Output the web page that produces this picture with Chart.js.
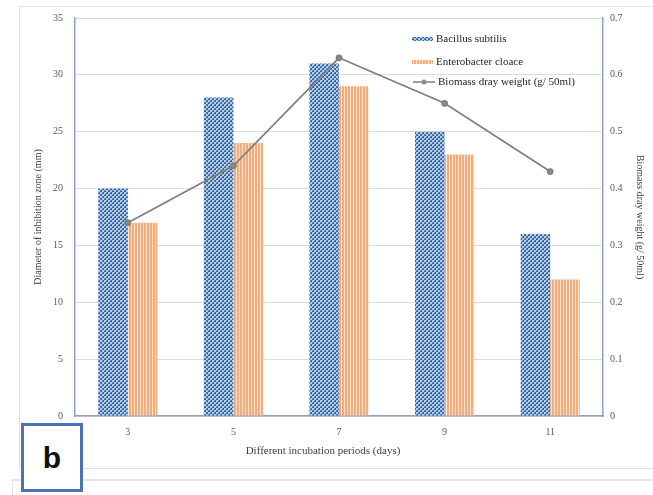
<!DOCTYPE html>
<html>
<head>
<meta charset="utf-8">
<script src="https://cdn.jsdelivr.net/npm/chart.js@4.4.1/dist/chart.umd.min.js"></script>
<style>
    html, body { margin: 0; padding: 0; background: #fff; }
    #wrap { position: relative; width: 653px; height: 495px; overflow: hidden; }
    #chart { position: absolute; left: 0; top: 0; z-index: 1; }
    .frame { position: absolute; left: 19px; top: 6px; width: 640px; height: 461px; border: 1px solid #e2e2e2; border-right: none; }
    .under { position: absolute; left: 12px; top: 479px; width: 641px; border-top: 2px solid #e6e6e6; }
    .under-side { position: absolute; left: 12px; top: 479px; height: 16px; border-left: 1px solid #e6e6e6; }
    #badge {
        position: absolute; left: 21px; top: 423px; width: 56px; height: 63px; z-index: 2;
        border: 3px solid #4a72b4; background: #fff; color: #111;
        font: bold 30px 'Liberation Sans', Arial, sans-serif;
        display: flex; align-items: center; justify-content: center;
    }
</style>
</head>
<body>
<div id="wrap">
    <div class="frame"></div>
    <div class="under"></div>
    <div class="under-side"></div>
    <canvas id="chart" width="653" height="495"></canvas>
    <div id="badge">b</div>
</div>
<script>
// 데이터
const days = ['3', '5', '7', '9', '11'];
const bacillus = [20, 28, 31, 25, 16];
const enterobacter = [17, 24, 29, 23, 12];
const biomass = [0.34, 0.44, 0.63, 0.55, 0.43];
const seriesNames = ['Bacillus subtilis', 'Enterobacter cloace', 'Biomass dray weight (g/ 50ml)'];
const zoneRange = [0, 35, 5];
const biomassRange = [0, 0.7, 0.1];

const serif = "'Liberation Serif', 'Times New Roman', serif";
const axisColor = '#8fa2c4';

function dotPattern() {
    const c = document.createElement('canvas');
    c.width = 4; c.height = 4;
    const g = c.getContext('2d');
    g.fillStyle = '#3f6296';
    g.fillRect(0, 0, 4, 4);
    g.fillStyle = '#acccec';
    g.fillRect(0, 0, 2, 2);
    g.fillRect(2, 2, 2, 2);
    g.fillStyle = '#6f93c0';
    g.fillRect(2, 0, 1, 1);
    g.fillRect(0, 2, 1, 1);
    return g.createPattern(c, 'repeat');
}

function stripePattern() {
    const c = document.createElement('canvas');
    c.width = 3; c.height = 3;
    const g = c.getContext('2d');
    g.fillStyle = '#f3ad7c';
    g.fillRect(0, 0, 3, 3);
    g.fillStyle = '#fde3cf';
    g.fillRect(2, 0, 1, 3);
    return g.createPattern(c, 'repeat');
}

const dots = dotPattern();
const stripes = stripePattern();

// x축 제목 + 범례 직접 그리기
const extrasPlugin = {
    id: 'extrasPlugin',
    afterDraw(chart) {
        const ctx = chart.ctx;
        ctx.save();
        ctx.fillStyle = '#404040';
        ctx.font = '11px ' + serif;
        ctx.textAlign = 'center';
        ctx.textBaseline = 'middle';
        ctx.fillText('Different incubation periods (days)', 323, 451);

        // 범례
        ctx.textAlign = 'left';
        ctx.fillStyle = dots;
        ctx.fillRect(412, 37, 21, 4);
        ctx.fillStyle = stripes;
        ctx.fillRect(412, 60, 21, 4);

        ctx.strokeStyle = '#7f7f7f';
        ctx.lineWidth = 1.5;
        ctx.beginPath();
        ctx.moveTo(413, 82);
        ctx.lineTo(435, 82);
        ctx.stroke();
        ctx.fillStyle = '#8c8c8c';
        ctx.beginPath();
        ctx.arc(424, 82, 2.5, 0, Math.PI * 2);
        ctx.fill();

        ctx.fillStyle = '#262626';
        ctx.font = '11px ' + serif;
        ctx.fillText(seriesNames[0], 436, 39);
        ctx.fillText(seriesNames[1], 436, 62);
        ctx.fillText(seriesNames[2], 438, 82);
        ctx.restore();
    }
};

const ctx = document.getElementById('chart').getContext('2d');
new Chart(ctx, {
    type: 'bar',
    data: {
        labels: days,
        datasets: [
            {
                type: 'line',
                label: seriesNames[2],
                data: biomass,
                yAxisID: 'y1',
                borderColor: '#808080',
                borderWidth: 1.75,
                pointRadius: 2.5,
                pointBackgroundColor: '#8c8c8c',
                pointBorderColor: '#7f7f7f',
                tension: 0,
                order: 0
            },
            {
                label: seriesNames[0],
                data: bacillus,
                backgroundColor: dots,
                yAxisID: 'y',
                order: 1
            },
            {
                label: seriesNames[1],
                data: enterobacter,
                backgroundColor: stripes,
                yAxisID: 'y',
                order: 1
            }
        ]
    },
    options: {
        responsive: false,
        animation: false,
        categoryPercentage: 0.56,
        barPercentage: 1.0,
        layout: { padding: { top: 18, left: 0, right: 0, bottom: 0 } },
        plugins: {
            legend: { display: false },
            tooltip: { enabled: false }
        },
        scales: {
            x: {
                grid: { display: false, drawTicks: false },
                border: { color: axisColor, width: 1.5 },
                ticks: { padding: 10, color: '#595959', font: { family: serif, size: 10 } },
                afterFit: s => { s.height = 79; }
            },
            y: {
                position: 'left',
                min: zoneRange[0],
                max: zoneRange[1],
                ticks: { stepSize: zoneRange[2], padding: 12, color: '#595959', font: { family: serif, size: 10 } },
                grid: { color: '#dcdcdc', drawTicks: false },
                border: { color: axisColor, width: 1.5 },
                title: {
                    display: true,
                    text: 'Diameter of inhibition zone (mm)',
                    color: '#404040',
                    font: { family: serif, size: 10 },
                    padding: { top: 32, bottom: 0 }
                },
                afterFit: s => { s.width = 75; }
            },
            y1: {
                position: 'right',
                min: biomassRange[0],
                max: biomassRange[1],
                ticks: { stepSize: biomassRange[2], padding: 7, color: '#595959', font: { family: serif, size: 10 } },
                grid: { drawOnChartArea: false, drawTicks: false },
                border: { color: axisColor, width: 1.5 },
                title: {
                    display: true,
                    text: 'Biomass dray weight (g/ 50ml)',
                    color: '#404040',
                    font: { family: serif, size: 10 },
                    padding: { top: 7, bottom: 0 }
                },
                afterFit: s => { s.width = 50; }
            }
        }
    },
    plugins: [extrasPlugin]
});
</script>
</body>
</html>
